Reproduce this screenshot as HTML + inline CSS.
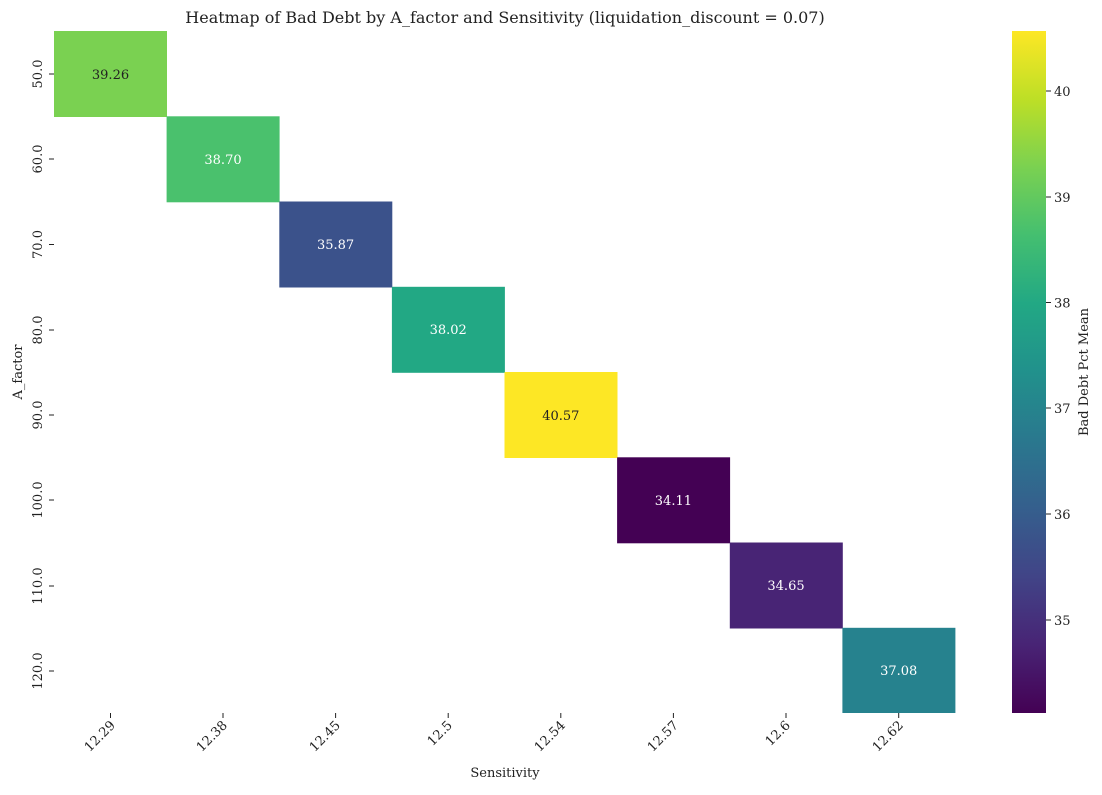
<!DOCTYPE html>
<html><head><meta charset="utf-8"><style>
body{margin:0;background:#fff;}
svg text{font-family:"DejaVu Serif","Liberation Serif",serif;fill:#222;}
</style></head><body>
<svg width="1102" height="790" xmlns="http://www.w3.org/2000/svg">
<defs>
<linearGradient id="vir" x1="0" y1="1" x2="0" y2="0">
<stop offset="0" stop-color="#440154"/><stop offset="0.1" stop-color="#482475"/>
<stop offset="0.2" stop-color="#414487"/><stop offset="0.3" stop-color="#355f8d"/>
<stop offset="0.4" stop-color="#2a788e"/><stop offset="0.5" stop-color="#21918c"/>
<stop offset="0.6" stop-color="#22a884"/><stop offset="0.7" stop-color="#44bf70"/>
<stop offset="0.8" stop-color="#7ad151"/><stop offset="0.9" stop-color="#bddf26"/>
<stop offset="1" stop-color="#fde725"/>
</linearGradient>
</defs>
<text x="505" y="23" font-size="16" text-anchor="middle">Heatmap of Bad Debt by A_factor and Sensitivity (liquidation_discount = 0.07)</text>
<g font-size="13" text-anchor="middle">
<rect x="54" y="31" width="113" height="86" fill="#7ad151"/><text x="110.5" y="79" fill="#222">39.26</text>
<rect x="166.6" y="116.3" width="113" height="86" fill="#4ac16d"/><text x="223" y="164" style="fill:#fff">38.70</text>
<rect x="279.3" y="201.5" width="113" height="86" fill="#3b528b"/><text x="335.6" y="249" style="fill:#fff">35.87</text>
<rect x="391.9" y="286.8" width="113" height="86" fill="#22a884"/><text x="448.2" y="334" style="fill:#fff">38.02</text>
<rect x="504.5" y="372" width="113" height="86" fill="#fde725"/><text x="560.8" y="420" fill="#222">40.57</text>
<rect x="617.1" y="457.3" width="113" height="86" fill="#440154"/><text x="673.4" y="505" style="fill:#fff">34.11</text>
<rect x="729.8" y="542.5" width="113" height="86" fill="#482475"/><text x="786" y="590" style="fill:#fff">34.65</text>
<rect x="842.4" y="627.8" width="113" height="85.2" fill="#26828e"/><text x="898.7" y="675" style="fill:#fff">37.08</text>
</g>
<g font-size="13" stroke="#222">
<line x1="110.5" y1="713" x2="110.5" y2="718"/><line x1="223" y1="713" x2="223" y2="718"/><line x1="335.6" y1="713" x2="335.6" y2="718"/><line x1="448.2" y1="713" x2="448.2" y2="718"/><line x1="560.8" y1="713" x2="560.8" y2="718"/><line x1="673.4" y1="713" x2="673.4" y2="718"/><line x1="786" y1="713" x2="786" y2="718"/><line x1="898.7" y1="713" x2="898.7" y2="718"/>
<line x1="49" y1="74" x2="54" y2="74"/><line x1="49" y1="159" x2="54" y2="159"/><line x1="49" y1="244.5" x2="54" y2="244.5"/><line x1="49" y1="330" x2="54" y2="330"/><line x1="49" y1="415" x2="54" y2="415"/><line x1="49" y1="500" x2="54" y2="500"/><line x1="49" y1="586" x2="54" y2="586"/><line x1="49" y1="671" x2="54" y2="671"/>
</g>
<g font-size="13" text-anchor="end">
<text transform="translate(116,726) rotate(-45)">12.29</text>
<text transform="translate(228,726) rotate(-45)">12.38</text>
<text transform="translate(341,726) rotate(-45)">12.45</text>
<text transform="translate(453,726) rotate(-45)">12.5</text>
<text transform="translate(566,726) rotate(-45)">12.54</text>
<text transform="translate(679,726) rotate(-45)">12.57</text>
<text transform="translate(791,726) rotate(-45)">12.6</text>
<text transform="translate(904,726) rotate(-45)">12.62</text>
</g>
<g font-size="13" text-anchor="middle">
<text transform="translate(42,74) rotate(-90)">50.0</text>
<text transform="translate(42,159) rotate(-90)">60.0</text>
<text transform="translate(42,244.5) rotate(-90)">70.0</text>
<text transform="translate(42,330) rotate(-90)">80.0</text>
<text transform="translate(42,415) rotate(-90)">90.0</text>
<text transform="translate(42,500) rotate(-90)">100.0</text>
<text transform="translate(42,586) rotate(-90)">110.0</text>
<text transform="translate(42,671) rotate(-90)">120.0</text>
<text x="505" y="777">Sensitivity</text>
<text transform="translate(22,372) rotate(-90)">A_factor</text>
<text transform="translate(1088,372) rotate(-90)">Bad Debt Pct Mean</text>
</g>
<rect x="1012" y="31" width="34" height="682" fill="url(#vir)"/>
<g stroke="#222"><line x1="1046" y1="91" x2="1051" y2="91"/><line x1="1046" y1="197" x2="1051" y2="197"/><line x1="1046" y1="302.5" x2="1051" y2="302.5"/><line x1="1046" y1="408" x2="1051" y2="408"/><line x1="1046" y1="514" x2="1051" y2="514"/><line x1="1046" y1="620" x2="1051" y2="620"/></g>
<g font-size="13">
<text x="1054" y="96">40</text><text x="1054" y="202">39</text><text x="1054" y="307.5">38</text><text x="1054" y="413">37</text><text x="1054" y="519">36</text><text x="1054" y="625">35</text>
</g>
</svg>
</body></html>
